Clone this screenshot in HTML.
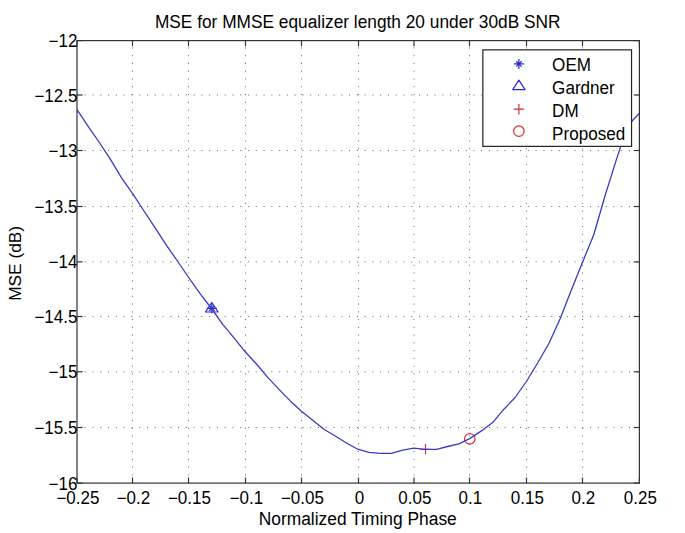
<!DOCTYPE html>
<html><head><meta charset="utf-8"><style>
html,body{margin:0;padding:0;background:#fff;}
svg{display:block;}
text{font-family:"Liberation Sans",sans-serif;font-size:17px;fill:#000;}
</style></head><body>
<svg width="685" height="533" viewBox="0 0 685 533">
<rect x="0" y="0" width="685" height="533" fill="#fff"/>
<g stroke="#666" stroke-width="1" stroke-dasharray="1 6.762" fill="none">
<line x1="132.50" y1="483.10" x2="132.50" y2="40.60"/>
<line x1="188.50" y1="483.10" x2="188.50" y2="40.60"/>
<line x1="245.50" y1="483.10" x2="245.50" y2="40.60"/>
<line x1="301.50" y1="483.10" x2="301.50" y2="40.60"/>
<line x1="358.50" y1="483.10" x2="358.50" y2="40.60"/>
<line x1="414.00" y1="483.10" x2="414.00" y2="40.60"/>
<line x1="469.50" y1="483.10" x2="469.50" y2="40.60"/>
<line x1="526.50" y1="483.10" x2="526.50" y2="40.60"/>
<line x1="582.50" y1="483.10" x2="582.50" y2="40.60"/>
</g>
<g stroke="#666" stroke-width="1" stroke-dasharray="1 6.774" fill="none">
<line x1="77.00" y1="95.00" x2="639.40" y2="95.00"/>
<line x1="77.00" y1="150.50" x2="639.40" y2="150.50"/>
<line x1="77.00" y1="206.50" x2="639.40" y2="206.50"/>
<line x1="77.00" y1="261.90" x2="639.40" y2="261.90"/>
<line x1="77.00" y1="316.50" x2="639.40" y2="316.50"/>
<line x1="77.00" y1="371.80" x2="639.40" y2="371.80"/>
<line x1="77.00" y1="427.50" x2="639.40" y2="427.50"/>
</g>
<g fill="none" stroke="#2a2ad0" stroke-width="1.2" stroke-linejoin="round">
<path d="M206.80,308.30H216.80M211.80,303.30V313.30M209.10,305.60L214.50,311.00M209.10,311.00L214.50,305.60"/>
<path d="M211.80,302.50L218.10,312.00L205.50,312.00Z"/>
</g>
<g fill="none" stroke="#dc2c34" stroke-width="1.2">
<path d="M420.30,449.30H430.70M425.50,444.10V454.50"/>
<circle cx="469.75" cy="438.9" r="5.25"/>
</g>
<path d="M77.00,109.70 L87.80,125.80 L99.04,142.00 L110.29,159.20 L121.53,177.80 L132.78,193.80 L144.03,211.00 L155.27,228.20 L166.52,245.30 L177.76,261.50 L189.01,278.00 L200.26,293.80 L211.50,308.50 L222.75,324.30 L233.99,337.80 L245.24,351.80 L256.49,364.00 L267.73,377.40 L278.98,389.40 L290.22,400.90 L301.47,411.30 L312.72,420.30 L323.96,429.20 L335.21,436.00 L346.45,443.00 L357.70,449.20 L368.95,452.30 L380.19,453.30 L391.44,453.30 L402.68,450.20 L413.93,448.10 L425.18,449.30 L436.42,449.30 L447.67,446.50 L458.91,443.80 L470.16,438.40 L481.41,430.90 L492.65,422.60 L503.90,409.20 L515.14,397.50 L526.39,381.50 L537.64,363.00 L548.88,343.50 L560.13,318.70 L571.37,290.10 L582.62,262.00 L593.87,234.50 L605.11,195.50 L616.36,159.60 L627.60,125.80 L639.40,113.30" fill="none" stroke="#3a3ac4" stroke-width="1.3" stroke-linejoin="round"/>
<g stroke="#333" stroke-width="1.2" fill="none">
<line x1="77.00" y1="483.10" x2="77.00" y2="477.50"/>
<line x1="77.00" y1="40.60" x2="77.00" y2="46.20"/>
<line x1="132.50" y1="483.10" x2="132.50" y2="477.50"/>
<line x1="132.50" y1="40.60" x2="132.50" y2="46.20"/>
<line x1="188.50" y1="483.10" x2="188.50" y2="477.50"/>
<line x1="188.50" y1="40.60" x2="188.50" y2="46.20"/>
<line x1="245.50" y1="483.10" x2="245.50" y2="477.50"/>
<line x1="245.50" y1="40.60" x2="245.50" y2="46.20"/>
<line x1="301.50" y1="483.10" x2="301.50" y2="477.50"/>
<line x1="301.50" y1="40.60" x2="301.50" y2="46.20"/>
<line x1="358.50" y1="483.10" x2="358.50" y2="477.50"/>
<line x1="358.50" y1="40.60" x2="358.50" y2="46.20"/>
<line x1="414.00" y1="483.10" x2="414.00" y2="477.50"/>
<line x1="414.00" y1="40.60" x2="414.00" y2="46.20"/>
<line x1="469.50" y1="483.10" x2="469.50" y2="477.50"/>
<line x1="469.50" y1="40.60" x2="469.50" y2="46.20"/>
<line x1="526.50" y1="483.10" x2="526.50" y2="477.50"/>
<line x1="526.50" y1="40.60" x2="526.50" y2="46.20"/>
<line x1="582.50" y1="483.10" x2="582.50" y2="477.50"/>
<line x1="582.50" y1="40.60" x2="582.50" y2="46.20"/>
<line x1="639.40" y1="483.10" x2="639.40" y2="477.50"/>
<line x1="639.40" y1="40.60" x2="639.40" y2="46.20"/>
<line x1="77.00" y1="40.60" x2="82.60" y2="40.60"/>
<line x1="639.40" y1="40.60" x2="633.80" y2="40.60"/>
<line x1="77.00" y1="95.00" x2="82.60" y2="95.00"/>
<line x1="639.40" y1="95.00" x2="633.80" y2="95.00"/>
<line x1="77.00" y1="150.50" x2="82.60" y2="150.50"/>
<line x1="639.40" y1="150.50" x2="633.80" y2="150.50"/>
<line x1="77.00" y1="206.50" x2="82.60" y2="206.50"/>
<line x1="639.40" y1="206.50" x2="633.80" y2="206.50"/>
<line x1="77.00" y1="261.90" x2="82.60" y2="261.90"/>
<line x1="639.40" y1="261.90" x2="633.80" y2="261.90"/>
<line x1="77.00" y1="316.50" x2="82.60" y2="316.50"/>
<line x1="639.40" y1="316.50" x2="633.80" y2="316.50"/>
<line x1="77.00" y1="371.80" x2="82.60" y2="371.80"/>
<line x1="639.40" y1="371.80" x2="633.80" y2="371.80"/>
<line x1="77.00" y1="427.50" x2="82.60" y2="427.50"/>
<line x1="639.40" y1="427.50" x2="633.80" y2="427.50"/>
<line x1="77.00" y1="483.10" x2="82.60" y2="483.10"/>
<line x1="639.40" y1="483.10" x2="633.80" y2="483.10"/>
<rect x="77.00" y="40.60" width="562.40" height="442.50"/>
</g>
<rect x="482.85" y="49.86" width="148.7" height="96.5" fill="#fff" stroke="#222" stroke-width="1.2"/>
<g fill="none" stroke="#2a2ad0" stroke-width="1.2" stroke-linejoin="round">
<path d="M513.90,63.95H523.90M518.90,58.95V68.95M516.20,61.25L521.60,66.65M516.20,66.65L521.60,61.25"/>
<path d="M518.90,80.20L525.10,89.60L512.70,89.60Z"/>
</g>
<g fill="none" stroke="#dc2c34" stroke-width="1.2">
<path d="M513.70,109.20H524.10M518.90,104.00V114.40"/>
<circle cx="518.9" cy="131.2" r="5.25"/>
</g>
<text transform="translate(552.10,70.70) scale(1,1.045)" style="font-size:17.10px">OEM</text>
<text transform="translate(552.10,93.80) scale(1,1.045)" style="font-size:17.10px">Gardner</text>
<text transform="translate(552.10,116.90) scale(1,1.045)" style="font-size:17.10px">DM</text>
<text transform="translate(552.10,140.00) scale(1,1.045)" style="font-size:17.10px">Proposed</text>
<text transform="translate(77.90,503.80) scale(1,1.045)" style="font-size:17.00px" text-anchor="middle">−0.25</text>
<text transform="translate(133.40,503.80) scale(1,1.045)" style="font-size:17.00px" text-anchor="middle">−0.2</text>
<text transform="translate(189.40,503.80) scale(1,1.045)" style="font-size:17.00px" text-anchor="middle">−0.15</text>
<text transform="translate(246.40,503.80) scale(1,1.045)" style="font-size:17.00px" text-anchor="middle">−0.1</text>
<text transform="translate(302.40,503.80) scale(1,1.045)" style="font-size:17.00px" text-anchor="middle">−0.05</text>
<text transform="translate(359.40,503.80) scale(1,1.045)" style="font-size:17.00px" text-anchor="middle">0</text>
<text transform="translate(414.90,503.80) scale(1,1.045)" style="font-size:17.00px" text-anchor="middle">0.05</text>
<text transform="translate(470.40,503.80) scale(1,1.045)" style="font-size:17.00px" text-anchor="middle">0.1</text>
<text transform="translate(527.40,503.80) scale(1,1.045)" style="font-size:17.00px" text-anchor="middle">0.15</text>
<text transform="translate(583.40,503.80) scale(1,1.045)" style="font-size:17.00px" text-anchor="middle">0.2</text>
<text transform="translate(640.30,503.80) scale(1,1.045)" style="font-size:17.00px" text-anchor="middle">0.25</text>
<text transform="translate(77.40,47.10) scale(1,1.045)" style="font-size:17.00px" text-anchor="end">−12</text>
<text transform="translate(77.40,101.50) scale(1,1.045)" style="font-size:17.00px" text-anchor="end">−12.5</text>
<text transform="translate(77.40,157.00) scale(1,1.045)" style="font-size:17.00px" text-anchor="end">−13</text>
<text transform="translate(77.40,213.00) scale(1,1.045)" style="font-size:17.00px" text-anchor="end">−13.5</text>
<text transform="translate(77.40,268.40) scale(1,1.045)" style="font-size:17.00px" text-anchor="end">−14</text>
<text transform="translate(77.40,323.00) scale(1,1.045)" style="font-size:17.00px" text-anchor="end">−14.5</text>
<text transform="translate(77.40,378.30) scale(1,1.045)" style="font-size:17.00px" text-anchor="end">−15</text>
<text transform="translate(77.40,434.00) scale(1,1.045)" style="font-size:17.00px" text-anchor="end">−15.5</text>
<text transform="translate(77.40,489.60) scale(1,1.045)" style="font-size:17.00px" text-anchor="end">−16</text>
<text transform="translate(357.70,27.70) scale(1,1.045)" style="font-size:17.30px" text-anchor="middle">MSE for MMSE equalizer length 20 under 30dB SNR</text>
<text transform="translate(357.70,524.60) scale(1,1.045)" style="font-size:17.40px" text-anchor="middle">Normalized Timing Phase</text>
<text transform="translate(21,263.4) rotate(-90)" text-anchor="middle" style="font-size:17.3px">MSE (dB)</text>
</svg>
</body></html>
